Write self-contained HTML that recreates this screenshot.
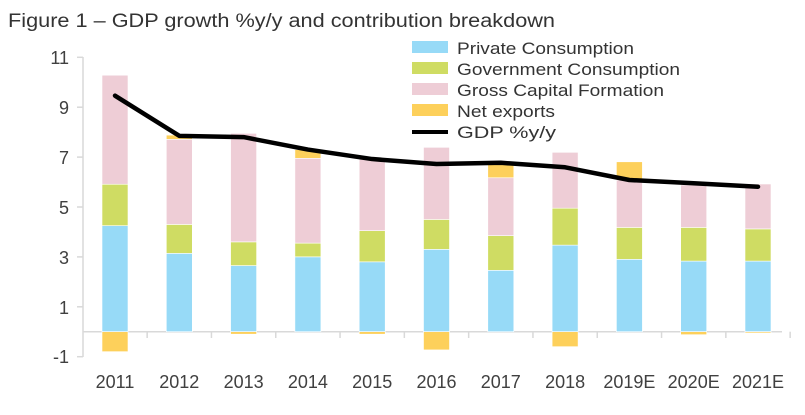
<!DOCTYPE html>
<html><head><meta charset="utf-8"><style>
body{margin:0;background:#fff;width:805px;height:410px;overflow:hidden;font-family:"Liberation Sans",sans-serif}
</style></head><body>
<svg width="805" height="410" xmlns="http://www.w3.org/2000/svg" font-family="Liberation Sans, sans-serif">
<text x="8" y="27" font-size="19" fill="#333" textLength="547" lengthAdjust="spacingAndGlyphs">Figure 1 – GDP growth %y/y and contribution breakdown</text>
<g stroke="#d9d9d9" stroke-width="1.5">
<line x1="83" y1="57" x2="83" y2="357"/>
<line x1="77" y1="57.3" x2="83" y2="57.3"/><line x1="77" y1="107.2" x2="83" y2="107.2"/><line x1="77" y1="157.1" x2="83" y2="157.1"/><line x1="77" y1="207" x2="83" y2="207"/><line x1="77" y1="256.9" x2="83" y2="256.9"/><line x1="77" y1="306.8" x2="83" y2="306.8"/><line x1="77" y1="356.7" x2="83" y2="356.7"/>
<line x1="83" y1="331.7" x2="782" y2="331.7"/>
</g>
<g font-size="18" fill="#404040" text-anchor="end">
<text x="69" y="64">11</text><text x="69" y="114">9</text><text x="69" y="164">7</text><text x="69" y="214">5</text><text x="69" y="264">3</text><text x="69" y="314">1</text><text x="69" y="363">-1</text>
</g>
<g id="bars" stroke="#fff" stroke-width="0.6"></g>
<g id="ticks" stroke="#d9d9d9" stroke-width="1.5"></g>
<g id="labels" font-size="18" fill="#404040" text-anchor="middle"></g>
<polyline id="gdp" fill="none" stroke="#000" stroke-width="4.5" stroke-linejoin="round" stroke-linecap="round"/>
<g font-size="17" fill="#333">
<rect x="412" y="41" width="36" height="12" fill="#97daf7"/><text x="457" y="54" textLength="177" lengthAdjust="spacingAndGlyphs">Private Consumption</text>
<rect x="412" y="62" width="36" height="12" fill="#cfdc63"/><text x="457" y="75" textLength="223" lengthAdjust="spacingAndGlyphs">Government Consumption</text>
<rect x="412" y="83" width="36" height="12" fill="#eecdd6"/><text x="457" y="96" textLength="207" lengthAdjust="spacingAndGlyphs">Gross Capital Formation</text>
<rect x="412" y="104" width="36" height="12" fill="#fdd05b"/><text x="457" y="117" textLength="98" lengthAdjust="spacingAndGlyphs">Net exports</text>
<line x1="412" y1="132" x2="448" y2="132" stroke="#000" stroke-width="4"/><text x="457" y="138" textLength="99" lengthAdjust="spacingAndGlyphs">GDP %y/y</text>
</g>
</svg>
<script>
var Z=331.7,U=24.95;function Y(v){return Z-v*U}
var d=[["2011",4.25,5.91,10.28,-0.8,9.46],["2012",3.14,4.3,7.71,7.88,7.85],["2013",2.65,3.6,7.95,-0.1,7.8],["2014",3.0,3.55,6.95,7.3,7.3],["2015",2.8,4.05,6.95,-0.1,6.92],["2016",3.3,4.5,7.39,-0.73,6.72],["2017",2.46,3.85,6.17,6.81,6.77],["2018",3.47,4.95,7.19,-0.6,6.59],["2019E",2.9,4.18,6.08,6.81,6.08],["2020E",2.83,4.18,5.88,-0.12,5.95],["2021E",2.83,4.12,5.92,-0.05,5.81]];
var ns="http://www.w3.org/2000/svg",b=document.getElementById("bars"),t=document.getElementById("ticks"),l=document.getElementById("labels"),pts=[];
function r(x,y1,y2,c){var e=document.createElementNS(ns,"rect");e.setAttribute("x",x);e.setAttribute("y",Math.min(y1,y2));e.setAttribute("width",26);e.setAttribute("height",Math.abs(y2-y1));e.setAttribute("fill",c);b.appendChild(e)}
d.forEach(function(a,i){var cx=115+i*64.3,x=cx-13;
r(x,Y(0),Y(a[1]),"#97daf7");r(x,Y(a[1]),Y(a[2]),"#cfdc63");r(x,Y(a[2]),Y(a[3]),"#eecdd6");
if(a[4]<0)r(x,Y(0),Y(a[4]),"#fdd05b");else r(x,Y(a[3]),Y(a[4]),"#fdd05b");
pts.push(cx+","+Y(a[5]));
var k=document.createElementNS(ns,"line");var tx=cx+32.15;k.setAttribute("x1",tx);k.setAttribute("x2",tx);k.setAttribute("y1",331.7);k.setAttribute("y2",338);t.appendChild(k);
var s=document.createElementNS(ns,"text");s.setAttribute("x",cx);s.setAttribute("y",388);s.textContent=a[0];l.appendChild(s);});
document.getElementById("gdp").setAttribute("points",pts.join(" "));
</script>
</body></html>
